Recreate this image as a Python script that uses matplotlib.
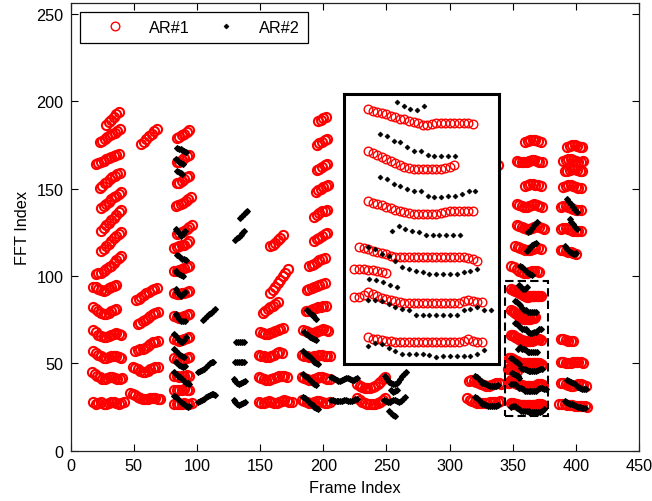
import matplotlib
matplotlib.use('Agg')
import matplotlib.pyplot as plt
import numpy as np
from matplotlib.patches import Rectangle

plt.rcParams['font.family'] = ['Liberation Sans', 'DejaVu Sans']

# Each track: (first frame, frame step, [FFT index values])
# ---------------- AR#1 (red circles) ----------------
ar1_g1 = [
    (18, 2, [28, 27, 27.5, 28, 27, 27, 27.5, 28, 28, 27.5, 27, 27.5, 28]),
    (17, 2, [45, 44, 43, 42, 41, 41, 41.5, 42, 42, 41.5, 41, 41, 41.5]),
    (18, 2, [57, 56, 55, 54, 53, 53, 53.5, 54, 54.5, 54, 53.5, 53]),
    (18, 2, [69, 68, 66.5, 65.5, 65, 65, 65.5, 66, 67, 67.5, 67, 66]),
    (18, 2, [82, 81, 80, 79, 78.5, 78.5, 79, 80, 80.5, 81]),
    (18, 2, [94, 93.5, 92.5, 92, 91.5, 92, 93, 94, 94.5, 95]),
    (20, 2, [101, 101.5, 102, 103, 104, 105, 106, 107.5, 109, 110.5, 111.5]),
    (24, 2, [114.5, 115.5, 117, 118.5, 120, 121.5, 123, 124, 125]),
    (24, 2, [126, 127.5, 129, 130.5, 132, 133.5, 135, 136.5, 138]),
    (24, 2, [139, 140, 141.5, 142.5, 144, 145, 146, 147, 148]),
    (23, 2, [150.5, 151.5, 153, 154, 155.5, 156.5, 157.5, 158.5, 159]),
    (20, 2, [164, 164.5, 165, 166, 167, 167.5, 168, 169, 169.5, 170]),
    (23, 2, [177, 177.5, 178.5, 179.5, 180.5, 181.5, 182, 183, 184]),
    (28, 2, [186.5, 188, 189.5, 191, 192.5, 194]),
]
ar1_g2 = [
    (47, 2, [33, 32.5, 32, 31, 30, 29.5, 29.5, 29.5, 30, 30, 30, 29.5, 29.5]),
    (49, 2, [48, 47.5, 46.5, 45.5, 45, 45, 45.5, 46.5, 47.5, 48, 48]),
    (51, 2, [57, 57.5, 58, 58.5, 59, 60, 61, 62, 62.5, 63]),
    (53, 2, [72.5, 73, 74, 75, 76, 77, 78, 79, 79.5]),
    (52, 2, [86.5, 87, 88, 89, 90, 91, 92, 92.5, 93]),
    (56, 2, [175.5, 177, 178.5, 180, 181.5, 183, 184]),
]
ar1_g3 = [
    (82, 2, [27, 26.5, 26.5, 27, 27.5, 27, 27, 27.5]),
    (82, 2, [35, 34.5, 34.5, 35, 35.5, 35, 35]),
    (82, 2, [43, 42.5, 42, 42.5, 43, 43.5, 43]),
    (82, 2, [53, 52.5, 52, 52, 52.5, 53, 53.5]),
    (82, 2, [64, 63.5, 63, 63.5, 64, 64.5, 65]),
    (82, 2, [77, 76.5, 76, 76.5, 77, 77.5, 78]),
    (82, 2, [90, 89.5, 89.5, 90, 90.5, 91, 91.5]),
    (82, 2, [103, 103, 103.5, 104, 104.5, 105, 105.5]),
    (82, 2, [116, 116.5, 117, 117.5, 118, 119, 120]),
    (84, 2, [124, 124.5, 125, 126, 127, 128, 129]),
    (83, 2, [140, 140.5, 141, 142, 143, 144, 145]),
    (84, 2, [153, 153.5, 154.5, 155.5, 156.5, 157.5]),
    (84, 2, [165, 165.5, 166.5, 167.5, 168.5, 169.5]),
    (84, 2, [179, 179.5, 180.5, 181.5, 182.5, 183.5]),
]
ar1_g6 = [
    (149, 2, [28, 27.5, 27.5, 28, 28.5, 28, 27.5, 27.5, 28, 28.5, 29, 28.5, 28, 28]),
    (149, 2, [42, 41.5, 41, 40.5, 40.5, 41, 41.5, 42, 42.5, 43, 42.5, 42]),
    (149, 2, [55, 54.5, 54, 53.5, 53.5, 54, 55, 56, 56.5, 56]),
    (150, 2, [68, 67.5, 67, 67, 67.5, 68, 68.5, 69, 69.5, 70]),
    (152, 2, [79, 80, 81, 82, 83, 84, 85]),
    (158, 2, [90, 92, 94, 96, 98, 100, 102, 104]),
    (158, 2, [117, 118, 119, 120.5, 122, 123.5]),
]
ar1_g7 = [
    (183, 2, [29, 28.5, 28, 27.5, 27.5, 28, 28.5, 28.5, 28, 27.5, 27.5, 28]),
    (183, 2, [42, 41.5, 41, 40.5, 40.5, 41, 41.5, 42, 42, 41.5, 41, 41]),
    (183, 2, [55, 54.5, 54, 53.5, 53.5, 54, 54.5, 55, 55, 54.5, 54, 54]),
    (184, 2, [69, 68.5, 68, 67.5, 67.5, 68, 68.5, 69, 69.5, 69, 68.5]),
    (186, 2, [80, 80, 80.5, 81, 81.5, 82, 82.5, 83, 83]),
    (187, 2, [92, 92.5, 93, 94, 94.5, 95, 95.5, 96]),
    (189, 2, [106, 106.5, 107, 108, 109, 110, 110.5]),
    (193, 2, [120, 121, 122, 123, 124, 124.5]),
    (193, 2, [134, 135, 136, 137, 137.5, 138]),
    (194, 2, [148, 149, 150, 151, 151.5, 152]),
    (195, 2, [160.5, 161.5, 162.5, 163.5, 164]),
    (195, 2, [175, 176, 177, 178, 178.5]),
    (196, 2, [188.5, 189.5, 190.5, 191]),
]
ar1_g9 = [
    (227, 2, [38, 37, 36.5, 36, 36, 36, 36.5, 37, 38, 39.5, 41, 42]),
    (227, 2, [30, 29, 28, 27.5, 27, 26.5, 26.5, 27, 27.5, 28, 29, 30]),
]
ar1_g10 = [
    (315, 2, [40, 40.5, 40, 39.5, 39, 38, 37.5, 37, 37, 37.5, 38, 38.5, 38.5, 38]),
    (314, 2, [30, 29, 28.5, 28, 27.5, 27.5, 27.5, 27.5, 27.5, 28, 28, 28, 28, 28.5]),
    (334, 2, [163, 163, 163.5]),
]
ar1_g11 = [
    (360, 2, [177, 177.5, 178, 178, 178, 177.5, 177]),
    (353, 2, [166, 165.5, 165, 165, 165.5, 166, 166.5, 166.5, 166, 165.5, 165]),
    (360, 2, [151.5, 152, 152.5, 152.5, 152, 152, 151.5]),
    (353, 2, [141, 140.5, 140, 139.5, 139.5, 140, 140.5, 141, 140.5, 140, 139.5]),
    (353, 2, [129, 128.5, 128, 127.5, 127, 127, 127.5, 128, 128.5, 128, 127.5, 127]),
    (352, 2, [117, 116.5, 116, 115.5, 115, 115, 115, 115.5, 116, 116, 115.5]),
    (349, 2, [106, 105, 104, 103, 102.5, 102, 102, 102.5, 103, 103, 103, 102.5]),
]
# zoomed (dashed) region, one value per frame
ar1_zoom = [
    (349, 1, [92.7, 92.2, 91.8, 91.6, 91.2, 90.8, 90.3, 90.0, 89.8, 89.4, 89.0, 88.6,
              88.2, 88.1, 88.4, 88.7, 88.7, 88.7, 88.7, 88.7, 88.7, 88.7, 88.6, 88.4]),
    (349, 1, [80.8, 80.2, 79.6, 79.0, 78.4, 77.8, 77.2, 76.6, 76.1, 75.8, 75.6, 75.6,
              75.6, 75.6, 75.6, 75.6, 75.7, 75.8, 76.2, 76.8]),
    (349, 1, [66.5, 66.0, 65.6, 65.2, 64.8, 64.4, 64.0, 63.6, 63.2, 62.9, 62.7, 62.7,
              62.7, 62.7, 62.7, 62.7, 62.9, 63.2, 63.6, 63.7, 63.7, 63.7, 63.7, 63.5]),
    (347, 1, [53.2, 53.0, 52.8, 52.3, 52.0, 51.6, 51.3, 50.8, 50.4, 50.4, 50.4, 50.4,
              50.4, 50.4, 50.4, 50.4, 50.4, 50.4, 50.4, 50.4, 50.4, 50.4, 50.4, 50.4,
              50.2, 49.8, 49.2]),
    (346, 1, [47.0, 47.0, 46.9, 46.8, 46.6, 46.4, 46.1, 45.8]),
    (346, 1, [38.9, 38.9, 39.6, 40.4, 39.9, 39.3, 38.8, 38.4, 38.2, 38.0, 37.7, 37.4,
              37.3, 37.2, 37.2, 37.2, 37.2, 37.2, 37.2, 37.2, 37.2, 37.2, 37.2, 37.4,
              37.9, 38.3, 38.0, 37.7, 37.5]),
    (349, 1, [27.5, 27.1, 26.9, 26.7, 26.6, 26.4, 26.3, 26.3, 26.3, 26.3, 26.3, 26.3,
              26.3, 26.3, 26.3, 26.3, 26.3, 26.3, 26.3, 26.3, 26.3, 26.6, 26.9, 26.6,
              26.3, 26.1]),
]
ar1_g12 = [
    (393, 2, [174, 174.5, 175, 175, 174.5, 174, 174]),
    (390, 2, [166, 166.5, 167, 167, 166.5, 166, 165.5, 165.5, 166]),
    (391, 2, [160, 160, 160.5, 161, 161, 160.5, 160, 160]),
    (390, 2, [151, 151.5, 152, 152, 151.5, 151, 150.5, 150.5]),
    (388, 2, [139.5, 140, 140, 139.5, 139, 138.5, 138, 138, 138]),
    (388, 2, [127, 127.5, 127.5, 127, 126.5, 126, 125.5, 125.5, 126]),
    (388, 2, [115, 115, 114.5, 114, 113.5, 113, 112.5]),
    (388, 2, [64, 64, 63.5, 63, 63, 63]),
    (388, 2, [50.5, 50.5, 50, 50, 50, 50.5, 50.5, 50.5, 50.5, 50]),
    (388, 2, [38.5, 38.5, 38, 37.5, 37, 37, 37.5, 38, 38, 37.5, 37]),
    (387, 2, [27, 27, 26.5, 26, 26, 26, 25.5, 25.5, 25.5, 25.5, 25.5, 25]),
]

# ---------------- AR#2 (black dots) ----------------
ar2_g3 = [
    (84, 1.5, [173.5, 173, 172.5, 172, 171.5, 171]),
    (83, 1.5, [167, 166.5, 165.5, 164.5, 164]),
    (84, 1.5, [160, 159.5, 159, 158.5]),
    (83, 1.5, [127, 126, 124.5, 123, 124, 125.5]),
    (84, 1.5, [112, 111.5, 110.5, 110, 109.5, 109]),
    (83, 1.5, [103, 102, 101, 100.5, 100]),
    (83, 1.5, [92.5, 91, 89.5, 88.5, 89.5, 91]),
    (83, 1.5, [78, 77, 75.5, 74.5, 74, 74.5]),
    (82, 1.5, [67, 65.5, 64, 63, 62.5, 63.5, 65]),
    (82, 1.5, [58, 57, 56, 55, 54, 53.5]),
    (83, 1.5, [51, 50, 49, 48.5, 48, 48.5]),
    (82, 1.5, [45, 44, 43, 42, 41, 40, 39, 38.5, 38]),
    (82, 1.5, [31.5, 30.5, 29.5, 28.5, 27.5, 26.5, 25.5, 25, 25.5]),
]
ar2_g4 = [
    (101, 1.5, [28, 28.5, 29, 29.5, 30.5, 31.5, 32, 32.5, 32.5, 32]),
    (101, 1.5, [45, 45.5, 46, 47, 48, 49, 50, 50.5, 51]),
    (105, 1.5, [75, 76, 77, 78, 79, 80, 81]),
]
ar2_g5 = [
    (129, 1.5, [29, 28, 27, 26, 26.5, 27.5, 28]),
    (129, 1.5, [41, 40, 39, 38, 38.5, 39.5, 40]),
    (130, 1.5, [51, 50.5, 50.5, 50.5, 51, 51]),
    (131, 1.5, [62.5, 62, 62, 62.5, 62.5]),
    (130, 1.5, [120.5, 121.5, 122.5, 123.5, 124.5, 125.5]),
    (134, 1.5, [133.5, 134.5, 135.5, 136.5, 137.5]),
]
ar2_g7 = [
    (184, 1.5, [31, 30, 29, 28, 27, 26, 25, 24.5, 24]),
    (184, 1.5, [44, 43, 42, 41, 40, 39, 38, 37.5]),
    (184, 1.5, [57, 56, 55, 54, 53, 52, 51, 50, 49.5]),
    (185, 1.5, [68, 67, 66, 65, 64.5, 64, 63.5]),
    (187, 1.5, [80.5, 79.5, 78.5, 77.5, 76.5, 75.5]),
]
ar2_g8 = [
    (206, 1.5, [42, 41.5, 41, 40.5, 40, 40, 40.5, 41, 41.5, 41.5, 41, 40.5, 40.5, 41, 41.5]),
    (206, 1.5, [29, 29, 28.5, 28.5, 28.5, 28.5, 28.5, 29, 29, 28.5, 28.5, 28.5, 29, 29.5, 29.5]),
]
ar2_g9 = [
    (249, 1.5, [42.5, 41, 39.5, 38.5, 38, 38, 38.5, 39.5, 41, 42.5, 44, 45]),
    (254, 1.5, [34.5, 33.5, 34, 35]),
    (248, 1.5, [29, 28.5, 28, 28, 28.5, 29, 29, 28.5, 28, 28.5, 29.5, 30.5]),
    (252, 1.5, [22.5, 21.5, 20.5, 20]),
]
ar2_g10 = [
    (320, 1.5, [43, 42, 41, 40, 39, 38.5, 38, 37.5, 37, 37, 37, 37, 37.5]),
    (320, 1.5, [31, 30, 29, 28, 27, 26.5, 26, 25.5, 25.5, 25.5, 25.5, 25.5, 26]),
]
ar2_g11 = [
    (362, 1.5, [125, 126, 127.5, 129, 130, 131]),
    (361, 1.5, [114.5, 115.5, 116.5, 117.5, 118.5, 119]),
    (356, 1.5, [106, 105, 104, 103, 102, 101, 100.5]),
]
ar2_zoom = [
    (355.3, 1.5, [94.6, 93.7, 92.8, 92.3, 93.7]),
    (351.6, 1.5, [85.6, 85.1, 83.7, 83.2, 81.8, 80.8, 80.8, 79.6, 79.4, 79.4, 79.4, 79.4]),
    (351.6, 1.5, [73.2, 72.7, 71.3, 70.8, 69.9, 69.4, 69.4, 68.0, 67.5, 67.5, 68.0, 68.0,
                  68.5, 69.4, 69.4]),
    (354.2, 1.5, [58.0, 59.4, 58.5, 58.0, 57.5, 56.6, 56.6, 56.6, 56.6, 56.6, 56.6]),
    (349, 1.5, [53.2, 52.7, 51.3, 50.8, 49.4, 47.5, 47.0, 46.5, 46.3, 45.6, 45.6, 45.6,
                45.6, 45.6, 46.1, 46.5, 47.0]),
    (349.3, 1.5, [44.2, 43.8, 43.3, 42.6, 41.9]),
    (349, 1.5, [38.3, 38.3, 38.0, 37.1, 36.1, 35.7, 35.2, 34.0, 34.0, 34.0, 34.0, 34.0,
                34.0, 34.0, 35.2, 35.7, 36.1, 35.2, 35.2]),
    (349, 1.5, [25.1, 25.8, 25.6, 24.4, 23.7, 22.8, 22.8, 22.8, 22.8, 22.5, 21.8, 22.3,
                22.3, 22.3, 22.3, 22.3, 22.8, 24.0]),
]
ar2_g12 = [
    (393, 1.5, [144, 142.5, 141, 139.5, 138, 136.5]),
    (395, 1.5, [132.5, 131, 129.5, 128, 127]),
    (391, 1.5, [117, 116, 115, 114, 113, 112.5, 113]),
    (393, 1.5, [40.5, 40, 39.5, 39, 38, 37, 36.5, 36, 35.5, 35.5, 35.5]),
    (391, 1.5, [28.5, 28, 27.5, 27, 26.5, 26, 25.5, 25, 25, 24.5, 24.5, 24.5]),
]

zoom_box = (343.7, 377.8, 19.9, 97.0)   # x0, x1, y0, y1 of the magnified region


def expand(groups):
    xs, ys = [], []
    for g in groups:
        for x0, step, vals in g:
            for i, v in enumerate(vals):
                xs.append(x0 + i * step)
                ys.append(v)
    return np.array(xs), np.array(ys)


x1, y1 = expand([ar1_g1, ar1_g2, ar1_g3, ar1_g6, ar1_g7, ar1_g9, ar1_g10,
                 ar1_g11, ar1_zoom, ar1_g12])
x2, y2 = expand([ar2_g3, ar2_g4, ar2_g5, ar2_g7, ar2_g8, ar2_g9, ar2_g10,
                 ar2_g11, ar2_zoom, ar2_g12])

red_main = dict(ls='none', marker='o', mfc='none', mec='#ff0000', ms=6.6, mew=1.5)
blk_main = dict(ls='none', marker='D', mfc='black', mec='black', ms=3.0, mew=0.8)
red_ins = dict(ls='none', marker='o', mfc='none', mec='#ff0000', ms=6.2, mew=1.0)
blk_ins = dict(ls='none', marker='D', mfc='black', mec='black', ms=2.5, mew=0.5)

fig = plt.figure(figsize=(6.52, 5.02), dpi=100)
ax = fig.add_axes([0.1084, 0.1002, 0.8717, 0.8918])
ax.plot(x1, y1, **red_main)
ax.plot(x2, y2, **blk_main)
# legend proxies with the plain marker look
ax.plot([], [], label='AR#1', **red_ins)
ax.plot([], [], label='AR#2', **blk_ins)
ax.set_xlim(0, 450)
ax.set_ylim(0, 256.3)
ax.set_xticks(np.arange(0, 451, 50))
ax.set_yticks(np.arange(0, 251, 50))
ax.tick_params(direction='in', top=True, right=True, length=5, width=0.8,
               labelsize=11.7, pad=5)
for s in ax.spines.values():
    s.set_linewidth(0.9)
    s.set_color('#222222')
ax.set_xlabel('Frame Index', fontsize=11.7, labelpad=5)
ax.set_ylabel('FFT Index', fontsize=11.7, labelpad=5)

leg = ax.legend(loc='upper left', ncol=2, fontsize=11.7, frameon=True, fancybox=False,
                framealpha=1, edgecolor='black', borderpad=0.5, borderaxespad=0.55,
                handlelength=3.4, handletextpad=0.35, columnspacing=0.55, numpoints=1)
leg.get_frame().set_linewidth(0.9)

bx0, bx1, by0, by1 = zoom_box
ax.add_patch(Rectangle((bx0, by0), bx1 - bx0, by1 - by0, fill=False, ec='black',
                       lw=1.5, ls=(0, (4, 2)), zorder=5))

# inset (magnified view of the dashed region)
ins = fig.add_axes([344 / 652, (502 - 365) / 502, 155 / 652, 270 / 502])
ins.set_facecolor('white')
ins.plot(x1, y1, **red_ins)
ins.plot(x2, y2, **blk_ins)
ins.set_xlim(bx0, bx1)
ins.set_ylim(by0, by1)
ins.set_xticks([])
ins.set_yticks([])
for s in ins.spines.values():
    s.set_linewidth(2.2)
    s.set_color('black')

fig.savefig('out.png', dpi=100)
